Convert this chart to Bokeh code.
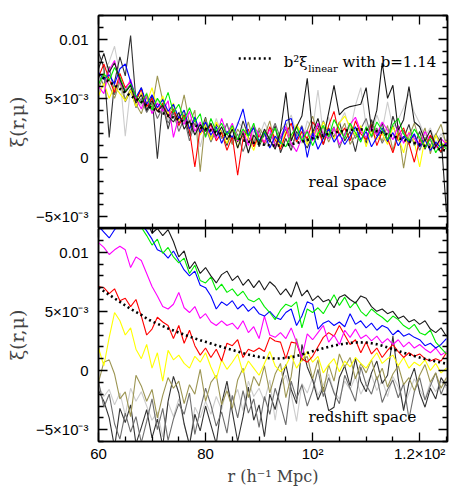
from bokeh.plotting import figure
from bokeh.models import Range1d, FixedTicker, LinearAxis, Label
from bokeh.layouts import column
from bokeh.embed import file_html
from bokeh.resources import INLINE

# separation r in h^-1 Mpc
r = list(range(60, 126))

# values in units of 1e-3
model = [7.0, 6.7, 6.4, 6.1, 5.8, 5.5, 5.2, 4.95, 4.7, 4.4,
         4.15, 3.95, 3.75, 3.55, 3.38, 3.2, 3.03, 2.87, 2.71, 2.56,
         2.42, 2.28, 2.14, 2.0, 1.87, 1.74, 1.6, 1.47, 1.35, 1.24,
         1.15, 1.08, 1.03, 1.01, 1.02, 1.06, 1.13, 1.22, 1.35, 1.48,
         1.62, 1.75, 1.88, 2.0, 2.1, 2.2, 2.27, 2.33, 2.37, 2.38,
         2.36, 2.3, 2.21, 2.09, 1.95, 1.8, 1.65, 1.5, 1.36, 1.23,
         1.1, 0.98, 0.87, 0.77, 0.67, 0.58]

# ---- real space ----
real_lightgray = [6.5, 7.2, 8.1, 9.4, 7.0, 1.8, 5.9, 5.0, 4.4, 5.5,
                  3.8, 4.9, 4.0, 3.2, 4.1, 2.6, 3.9, 2.1, 3.5, 0.9,
                  2.7, 1.6, 3.3, 2.0, 2.8, 1.4, 3.0, 2.5, 0.3, 2.2,
                  1.7, 3.0, 1.9, 2.4, 1.1, 2.6, 3.6, 2.0, 1.2, 3.1,
                  2.4, 5.7, 2.0, 3.4, 1.5, 2.9, 3.8, 2.2, 4.4, 5.9,
                  2.7, 1.9, 3.6, 2.3, 4.7, 2.5, 3.2, 4.2, 5.4, 3.8,
                  2.9, 1.8, 2.5, 1.2, 2.0, 1.3]
real_darkgray = [8.9, 7.6, 1.7, 6.4, 8.5, 6.9, 10.3, 4.8, 5.9, 3.9,
                 5.2, -0.1, 4.6, 2.4, 4.1, 2.9, 3.6, 1.8, 3.3, 2.0,
                 3.4, 1.5, 2.8, 2.2, 1.0, 2.5, 1.3, 3.1, 1.8, 2.6,
                 0.9, 2.0, 1.3, 2.7, 0.4, 1.6, 0.6, 2.2, 1.5, 0.8,
                 1.9, 2.8, 1.1, 2.5, 1.7, 3.0, 1.4, 2.2, 0.5, 2.6,
                 1.2, 3.2, 1.8, 2.9, 1.3, 3.5, 2.0, 1.6, 2.8, 1.0,
                 2.2, 0.7, 1.8, 1.1, 0.4, 1.5]
real_gray = [7.0, 6.1, 7.7, 5.3, 6.7, 4.9, 5.8, 4.2, 5.0, 3.8,
             4.6, 3.3, 4.2, 2.9, 3.8, 2.2, 3.3, 1.4, 2.9, 2.0,
             2.6, 1.3, 2.3, 1.7, 2.9, 1.2, 2.0, 0.5, 1.7, 1.1,
             2.3, 1.0, 1.8, 2.9, 1.6, 2.4, 0.9, 1.9, 2.7, 1.3,
             2.2, 1.5, 3.1, 1.9, 2.6, 0.8, 2.0, 2.9, 1.6, 2.4,
             3.3, 1.7, 2.5, 1.2, 2.0, 2.7, 1.4, 2.3, 1.1, 1.9,
             0.6, 1.7, 1.0, 2.0, 1.2, 0.9]
real_olive = [5.8, 7.0, 6.1, 5.0, 6.4, 4.7, 5.6, 4.5, 3.7, 5.1,
              4.2, 6.9, 4.8, 3.6, 4.4, 3.3, 5.3, 2.9, 4.0, -1.2,
              3.3, 1.4, 2.6, 1.6, 2.0, 1.1, 2.4, 1.7, 3.0, 1.3,
              2.5, 1.8, 3.1, 1.0, 2.2, 2.9, 1.4, 2.7, 1.6, 2.3,
              3.5, 1.9, 2.6, 1.3, 2.4, 2.0, 2.9, 1.1, 1.9, 2.6,
              1.5, 3.0, 2.2, 1.4, 2.7, 0.6, 2.3, -0.9, 1.8, 2.9,
              1.4, 2.5, 0.3, 1.9, 2.8, 1.0]
real_yellow = [5.2, 6.3, 5.0, 6.0, 5.4, 4.8, 5.7, 4.3, 5.5, 4.6,
               5.9, 4.1, 5.2, 3.7, 4.6, 3.1, 4.0, 2.5, 3.4, 1.9,
               2.8, 1.5, 3.0, 2.1, 1.2, 2.6, 0.8, 2.3, 1.6, 0.6,
               2.0, 1.3, 2.5, 1.7, 0.9, 2.2, 1.5, 2.8, 2.0, 1.1,
               2.4, 1.8, 3.0, 2.2, 1.6, 2.9, 3.5, 2.6, 1.9, 2.7,
               0.9, 2.3, 1.5, 2.0, 1.1, 2.6, 1.7, 0.4, 2.2, 1.3,
               -0.8, 1.6, 0.7, 1.9, 0.9, 1.4]
real_red = [6.8, 7.9, 6.6, 5.5, 7.1, 5.9, 6.4, 4.8, 5.8, 4.3,
            5.0, 3.9, 4.6, 3.4, 4.1, 2.7, 3.6, 2.3, -0.8, 2.5,
            1.9, 2.8, 1.4, 2.1, 0.6, 1.8, -1.5, 1.6, 2.4, 0.9,
            1.9, 1.2, 2.6, 1.5, 0.7, 2.0, 2.9, 1.3, 2.2, 1.6,
            3.0, 2.4, 1.1, 2.7, 3.9, 1.8, 2.5, 1.4, 3.1, 2.0,
            1.5, 2.8, 1.0, 2.2, 1.6, 0.4, 1.9, 2.5, 1.2, -0.4,
            1.5, 0.8, 1.9, 1.1, 0.5, 1.3]
real_magenta = [6.0, 5.4, 7.4, 8.2, 6.3, 5.7, 6.6, 5.0, 4.1, 5.3,
                3.7, 4.6, 3.9, 4.8, 1.7, 3.5, 2.8, 3.9, 2.2, 3.0,
                1.8, 2.5, 1.6, 3.3, 2.0, 2.9, 1.4, 2.3, 1.0, 2.7,
                1.9, 1.3, 2.4, 0.9, 1.8, 2.6, 1.2, 0.5, 1.7, 2.3,
                1.4, 2.9, 2.0, 1.6, 2.5, 1.1, 1.9, 2.8, 3.4, 2.2,
                1.7, 2.6, 1.9, 3.0, 2.3, 1.5, 2.7, 1.2, 2.1, 1.6,
                1.0, 2.2, 1.4, 0.8, 1.6, 1.1]
real_blue = [7.2, 6.6, 7.0, 6.2, 7.5, 7.9, 6.4, 5.1, 5.9, 4.5,
             5.3, 4.2, 4.9, 3.9, 4.5, 3.3, 4.0, 2.4, 3.4, 2.1,
             3.0, 1.9, 2.6, 1.2, 2.2, 1.7, 2.8, 4.1, 1.9, 2.5,
             1.4, 2.1, 0.8, 1.8, 1.2, 3.1, 3.3, 1.5, 2.6, 0.0,
             2.1, 0.7, 1.6, 2.4, 1.3, 2.0, 1.1, 1.8, 2.6, 1.5,
             2.2, 0.9, 1.7, 2.5, 1.4, 2.1, 1.0, 1.8, 1.3, 2.0,
             0.9, 1.5, 0.6, 1.3, 0.8, 1.2]
real_green = [6.2, 7.1, 6.5, 7.6, 6.8, 5.6, 6.2, 5.2, 4.6, 5.4,
              4.0, 5.0, 4.3, 5.5, 3.8, 4.5, 3.2, 4.2, 3.0, 3.7,
              1.7, 3.3, 2.2, 2.9, 1.9, 2.7, 1.5, 2.4, 1.8, 2.9,
              1.1, 2.2, 1.6, 2.5, 1.3, 0.9, 1.9, 2.6, 1.4, 2.2,
              1.0, 2.0, 2.7, 1.7, 3.2, 2.4, 1.6, 2.9, 2.1, 1.3,
              2.6, 1.8, 3.0, 2.3, 1.5, 2.8, 3.3, 2.0, 1.4, 2.4,
              1.7, 0.8, 1.6, 0.4, 1.2, 0.7]
real_black = [7.5, 8.8, 7.2, 8.0, 6.6, 5.5, 6.1, 4.6, 5.3, 4.0,
              4.8, 3.9, 4.4, 3.5, 3.0, 3.8, 2.4, 3.1, 1.9, 2.8,
              2.2, 2.9, 1.8, 2.6, 1.5, 2.4, 0.8, 2.1, 0.4, 1.9,
              1.2, 2.4, 1.5, 0.7, 2.2, 5.5, 1.4, 2.6, 3.5, 6.7,
              2.1, 3.3, 1.6, 3.8, 6.1, 3.6, 4.1, 4.3, 4.4, 4.5,
              5.9, 2.4, 4.0, 8.0, 5.0, 6.1, 2.3, 3.2, 6.0, 3.0,
              2.6, 1.4, 2.3, 0.9, 1.7, -4.6]

# ---- redshift space ----
red_lightgray = [-1.3, -2.2, -1.6, -2.9, -1.9, -3.8, -1.5, -2.6, -1.8, -3.0,
                 -4.2, -3.5, -5.6, -2.7, -3.9, -2.4, -4.6, -6.3, -3.1, -4.0,
                 -2.6, -3.7, -2.2, -3.3, -1.4, -2.5, -1.6, -3.4, -0.9, -2.2,
                 -1.5, -2.6, -0.8, -4.2, -1.3, -0.4, -2.0, -4.3, -1.1, -1.9,
                 -0.6, -2.1, -1.2, -0.3, -1.8, -2.4, -0.9, -1.6, -0.5, -2.0,
                 -1.1, -0.4, -1.7, -0.8, -2.2, -0.5, -1.4, -3.1, -1.9, -0.7,
                 -1.6, -2.4, -1.0, -1.8, -0.9, -1.5]
red_darkgray = [-1.7, -2.6, -4.0, -6.5, -3.2, -4.4, -2.9, -6.2, -4.8, -3.3,
                -5.7, -4.1, -6.4, -2.6, -0.5, -1.9, -4.5, -6.3, -3.7, -5.1,
                -3.0, -4.6, -6.2, -2.8, -0.9, -3.5, -6.0, -3.9, -1.4, -4.2,
                -2.9, -5.6, -2.0, -3.3, -1.2, 0.5, -1.6, -2.8, 2.2, 0.3,
                -0.8, -2.5, -1.4, -3.4, -3.1, -0.6, 0.4, -1.3, 1.0, -0.9,
                -1.8, -0.2, 0.8, -1.1, -0.4, 2.9, -0.7, -3.4, -1.0, 0.2,
                -1.9, -3.1, -1.5, -2.4, -0.6, -1.3]
red_gray = [-0.9, -3.1, -2.0, -4.5, -5.8, -3.6, -5.2, -3.9, -6.1, -4.3,
            -2.4, -5.0, -3.2, -5.9, -4.1, -2.8, -3.7, -1.9, -5.4, -3.3,
            -1.5, -2.9, -4.7, -3.5, -5.3, -2.1, -4.0, -1.7, -3.6, -2.4,
            -4.8, -2.2, -3.7, -1.5, -2.9, -4.6, -0.9, -2.4, -1.2, -3.0,
            -1.7, 0.1, -2.2, -0.6, -1.9, -2.8, -0.4, -1.5, -2.6, 0.3,
            -1.2, -2.0, -0.5, -2.7, -1.6, -0.8, -2.3, -1.1, -4.1, -1.8,
            -0.6, -2.5, -1.3, -0.2, -2.0, -0.9]
red_olive = [-1.0, 0.7, 0.9, -0.3, -2.4, -1.8, -3.9, -0.4, -1.3, -2.6,
             -1.6, -4.0, -2.1, -0.6, -1.5, -0.9, -2.8, -1.2, -2.0, 0.1,
             -2.6, -1.0, -0.4, -2.9, -1.7, -3.2, -0.8, 0.2, -2.3, -0.5,
             -1.3, 0.4, -1.9, -0.3, 0.6, -2.3, -0.5, 2.7, 0.8, 1.2,
             -0.7, 0.9, -1.8, 0.5, -0.9, 1.4, 0.3, 1.1, -0.7, 0.6,
             -0.2, 0.9, -0.8, 0.2, -1.4, -0.3, 0.4, -1.2, -0.6, -1.7,
             -0.4, 0.5, -1.0, -0.2, -1.5, -0.6]
red_yellow = [1.9, 0.4, 2.8, 4.9, 4.2, 3.0, 3.6, 1.8, 1.0, 2.2,
              0.2, 1.5, -0.9, 1.7, 0.9, 1.3, 0.6, 0.2, 1.2, 0.7,
              1.5, 0.3, -0.7, 0.9, 0.1, 0.7, 1.4, -0.2, 0.8, 0.2,
              -0.4, 0.6, 1.6, 0.4, -0.1, 0.4, 1.3, 0.2, 0.9, 1.6,
              0.7, 1.2, -0.2, 0.5, 1.0, -0.1, 0.8, 0.3, 1.1, 0.6,
              0.2, 0.9, 1.5, 0.6, 1.0, 1.3, 0.4, 1.1, 0.2, 0.7,
              0.4, 0.9, 0.0, 0.6, -0.2, 0.2]
red_red = [7.1, 7.0, 6.5, 6.9, 5.9, 6.1, 5.4, 6.0, 4.6, 3.0,
           3.5, 4.5, 4.1, 3.8, 2.7, 3.8, 2.3, 3.4, 2.1, 1.3,
           1.9, 1.1, 1.8, 0.8, 2.3, 2.1, 2.6, 1.1, 1.8, 1.6,
           1.9, 1.6, 2.8, 2.5, 2.4, 1.0, 2.4, 2.3, 1.0, 0.7,
           1.2, 2.0, 2.8, 3.2, 2.9, 3.8, 3.0, 2.2, 2.6, 1.5,
           2.4, 1.4, 1.9, 1.1, 1.7, 2.2, 1.6, 1.1, 1.5, 1.2,
           1.4, 1.0, 0.8, 1.0, 0.8, 1.5]
red_magenta = [10.8, 10.4, 9.8, 10.2, 10.5, 10.2, 8.7, 9.6, 9.3, 8.2,
               7.1, 6.3, 5.4, 5.2, 5.6, 6.6, 5.3, 4.9, 5.4, 4.4,
               4.8, 4.1, 3.8, 4.2, 3.8, 4.0, 3.5, 4.2, 3.2, 3.7,
               2.7, 4.6, 3.0, 2.8, 3.2, 2.7, 3.6, 2.4, 1.1, 3.1,
               2.6, 3.2, 3.8, 2.4, 3.0, 2.2, 3.4, 2.8, 3.5, 2.7,
               3.0, 2.5, 2.9, 2.3, 2.7, 2.2, 2.6, 2.0, 2.4, 1.9,
               2.2, 1.8, 1.5, 1.9, 1.3, 1.6]
red_blue = [12.2, 11.7, 11.2, 11.9, 12.3, 12.8, 12.5, 13.0, 12.4, 11.8,
            11.1, 10.2, 10.0, 9.5, 10.1, 9.3, 8.5, 8.0, 8.4, 7.2,
            7.0, 6.3, 5.2, 5.8, 5.5, 5.9, 5.2, 5.6, 5.0, 5.4,
            4.8, 4.6, 5.0, 4.5, 4.3, 4.9, 5.2, 3.8, 4.6, 5.8,
            5.6, 3.5, 4.0, 4.2, 3.8, 4.1, 3.7, 4.8, 3.9, 4.2,
            3.6, 4.0, 3.4, 3.8, 3.6, 3.0, 3.4, 2.9, 3.1, 2.8,
            2.6, 2.1, 2.3, 1.9, 2.2, 2.7]
red_green = [14.0, 13.6, 13.8, 13.2, 13.5, 13.0, 12.8, 12.4, 12.1, 11.4,
             10.6, 11.1, 9.9, 10.4, 9.6, 9.1, 9.5, 8.2, 8.9, 7.6,
             7.4, 7.9, 6.8, 7.3, 6.6, 6.9, 6.3, 6.7, 6.0, 5.8,
             6.1, 5.4, 4.9, 4.3, 5.1, 5.6, 5.4, 5.8, 3.6, 5.2,
             4.9, 5.3, 4.8, 5.6, 6.4, 5.5, 6.2, 5.3, 5.8, 5.0,
             4.6, 5.2, 4.8, 4.5, 4.1, 4.6, 4.3, 3.8, 3.5, 3.9,
             3.2, 3.0, 3.4, 2.4, 1.9, 1.4]
red_black = [13.5, 13.0, 12.8, 13.4, 12.9, 13.2, 12.6, 13.0, 12.4, 12.7,
             11.6, 12.0, 11.4, 11.9, 10.9, 9.6, 10.1, 8.6, 9.2, 8.2,
             8.7, 8.0, 7.4, 8.1, 8.4, 7.6, 8.0, 7.2, 7.7, 7.0,
             7.6, 6.8, 7.5, 7.1, 6.4, 6.9, 6.2, 7.5, 6.3, 6.8,
             5.9, 6.3, 5.8, 6.0, 5.3, 6.2, 6.4, 6.0, 5.7, 6.3,
             6.1, 5.4, 5.0, 5.2, 4.8, 5.0, 4.4, 4.6, 4.1, 4.3,
             3.9, 4.2, 3.5, 3.2, 3.6, 2.9]

series_colors = ["#cccccc", "#333333", "#6e6e6e", "#9c9552", "#ffff00",
                 "#ff0000", "#ff00ff", "#0000ff", "#00ee00", "#1a1a1a"]
real_series = [real_lightgray, real_darkgray, real_gray, real_olive, real_yellow,
               real_red, real_magenta, real_blue, real_green, real_black]
red_series = [red_lightgray, red_darkgray, red_gray, red_olive, red_yellow,
              red_red, red_magenta, red_blue, red_green, red_black]

y_major = [-5, 0, 5, 10]
y_minor = [v for v in range(-6, 13) if v not in y_major]
y_labels = {10: "0.01", 5: "5×10⁻³", 0: "0", -5: "−5×10⁻³"}
x_major = [60, 80, 100, 120]
x_minor = [65, 70, 75, 85, 90, 95, 105, 110, 115, 125]
x_labels = {60: "60", 80: "80", 100: "10²", 120: "1.2×10²"}

TICK_FONT = "Liberation Sans"
SERIF = "DejaVu Serif"


def style_axis(ax, show_labels):
    ax.major_tick_in = 9
    ax.major_tick_out = 0
    ax.minor_tick_in = 5
    ax.minor_tick_out = 0
    ax.axis_line_color = "black"
    ax.axis_line_width = 1.5
    ax.major_tick_line_width = 1.3
    ax.minor_tick_line_width = 1.3
    if show_labels:
        ax.major_label_text_font = TICK_FONT
        ax.major_label_text_font_size = "15px"
        ax.major_label_text_color = "black"
    else:
        ax.major_label_text_font_size = "1px"
        ax.major_label_text_color = None
        ax.major_label_standoff = 0


def make_panel(series, height, border_top, border_bottom, bottom_labels):
    p = figure(width=453, height=height,
               x_range=Range1d(60, 125.2), y_range=Range1d(-6, 12),
               output_backend="svg", toolbar_location=None,
               min_border_left=98, min_border_right=6,
               min_border_top=border_top, min_border_bottom=border_bottom)
    p.xgrid.visible = False
    p.ygrid.visible = False
    p.outline_line_color = "black"
    p.outline_line_width = 1.5
    p.background_fill_color = "white"
    p.border_fill_color = "white"

    p.xaxis.ticker = FixedTicker(ticks=x_major, minor_ticks=x_minor)
    p.yaxis.ticker = FixedTicker(ticks=y_major, minor_ticks=y_minor)
    style_axis(p.xaxis[0], bottom_labels)
    style_axis(p.yaxis[0], True)
    p.yaxis.major_label_standoff = 10
    if bottom_labels:
        p.xaxis.major_label_standoff = 3
        p.xaxis.major_label_overrides = x_labels
        p.xaxis.axis_label = "r (h⁻¹ Mpc)"
        p.xaxis.axis_label_text_font = SERIF
        p.xaxis.axis_label_text_font_style = "normal"
        p.xaxis.axis_label_text_font_size = "16px"
        p.xaxis.axis_label_standoff = 2
    p.yaxis.major_label_overrides = y_labels
    p.yaxis.axis_label = "ξ(r,μ)"
    p.yaxis.axis_label_text_font = SERIF
    p.yaxis.axis_label_text_font_style = "normal"
    p.yaxis.axis_label_text_font_size = "19px"
    p.yaxis.axis_label_standoff = 5

    ax_top = LinearAxis(ticker=FixedTicker(ticks=x_major, minor_ticks=x_minor))
    style_axis(ax_top, False)
    p.add_layout(ax_top, "above")
    ax_right = LinearAxis(ticker=FixedTicker(ticks=y_major, minor_ticks=y_minor))
    style_axis(ax_right, False)
    p.add_layout(ax_right, "right")

    for vals, col in zip(series, series_colors):
        p.line(r, vals, line_color=col, line_width=1.1)
    p.line(r, model, line_color="black", line_width=2.6, line_dash="2 3")
    return p


top = make_panel(real_series, 228, 15, 0, False)
bottom = make_panel(red_series, 263, 0, 50, True)

# legend of the model curve (top panel)
legend_x = [86.2, 92.5]
legend_y = [8.37, 8.37]
top.line(legend_x, legend_y, line_color="black", line_width=2.6, line_dash="2 3")
top.add_layout(Label(x=94.6, y=8.03, text="b²ξ", text_font=SERIF,
                     text_font_size="15px", text_color="black",
                     text_baseline="alphabetic"))
top.add_layout(Label(x=99.2, y=7.55, text="linear", text_font=SERIF,
                     text_font_size="10px", text_color="black",
                     text_baseline="alphabetic"))
top.add_layout(Label(x=105.6, y=8.03, text="with b=1.14", text_font=SERIF,
                     text_font_size="15px", text_color="black",
                     text_baseline="alphabetic"))
top.add_layout(Label(x=99.25, y=-2.11, text="real space", text_font=SERIF,
                     text_font_size="15px", text_color="black",
                     text_baseline="middle"))
bottom.add_layout(Label(x=99.25, y=-3.89, text="redshift space", text_font=SERIF,
                        text_font_size="15px", text_color="black",
                        text_baseline="middle"))

layout = column(top, bottom, spacing=0)
open("out.html", "w").write(file_html(layout, INLINE))
